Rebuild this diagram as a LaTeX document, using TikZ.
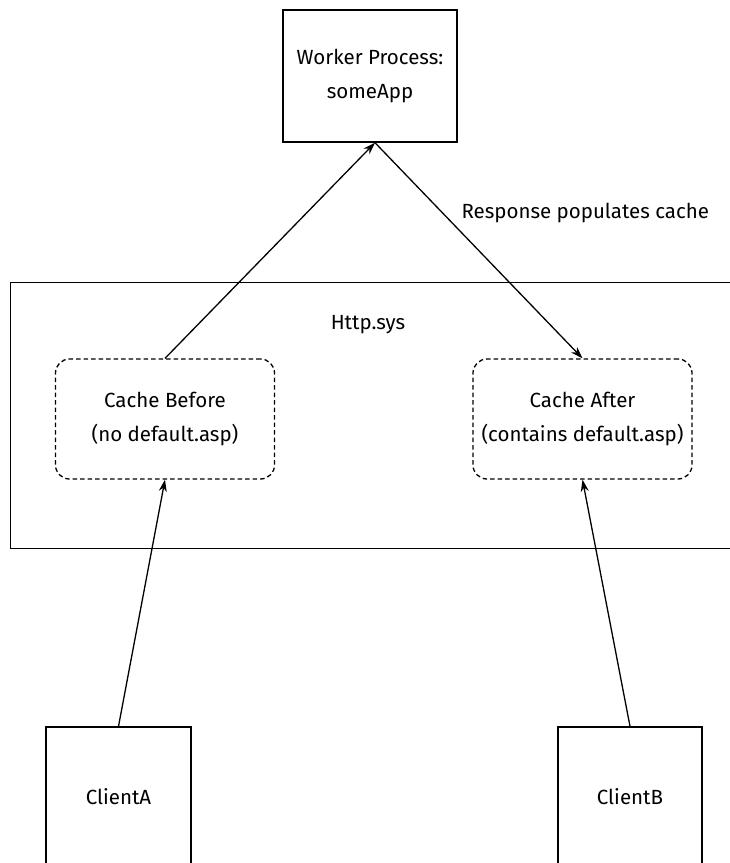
\documentclass[tikz,border=0pt]{standalone}
\usepackage{fontspec}
\setmainfont{Fira Sans}
\usetikzlibrary{arrows.meta,calc}
\begin{document}
\begin{tikzpicture}[x=1pt,y=-1pt,
  box/.style={draw,line width=1.4pt,inner sep=0pt,align=center},
  cachebox/.style={draw,line width=1.3pt,dash pattern=on 4.5pt off 3pt,rounded corners=14pt,inner sep=0pt,align=center,minimum width=219pt,minimum height=120pt},
  conn/.style={line width=1.3pt,-{Stealth[length=12pt,width=8pt]}},
  txt/.style={font=\fontsize{20.5}{34}\selectfont}
  ]
\useasboundingbox (0,0) rectangle (730,863);
\clip (0,0) rectangle (730,863);
\node[box,txt,minimum width=174pt,minimum height=132pt] (w) at (370,76) {Worker Process:\\someApp};
\node[box,minimum width=740pt,minimum height=266pt,anchor=north west] (http) at (10,282) {};
\node[txt] (httplabel) at (368,325) {Http.sys};
\node[cachebox,txt] (cb) at (165,419) {Cache Before\\(no default.asp)};
\node[cachebox,txt] (ca) at (582.5,419) {Cache After\\(contains default.asp)};
\node[box,txt,minimum width=145pt,minimum height=140pt] (a) at (118.5,797) {ClientA};
\node[box,txt,minimum width=144pt,minimum height=140pt] (b) at (630,797) {ClientB};
\node[txt,anchor=west] (lbl) at (458,213) {Response populates cache};
\draw[conn] (cb.north) -- ([xshift=5pt]w.south);
\draw[conn] ([xshift=5pt]w.south) -- (ca.north);
\draw[conn] (a.north) -- (cb.south);
\draw[conn] (b.north) -- (ca.south);
\end{tikzpicture}
\end{document}
